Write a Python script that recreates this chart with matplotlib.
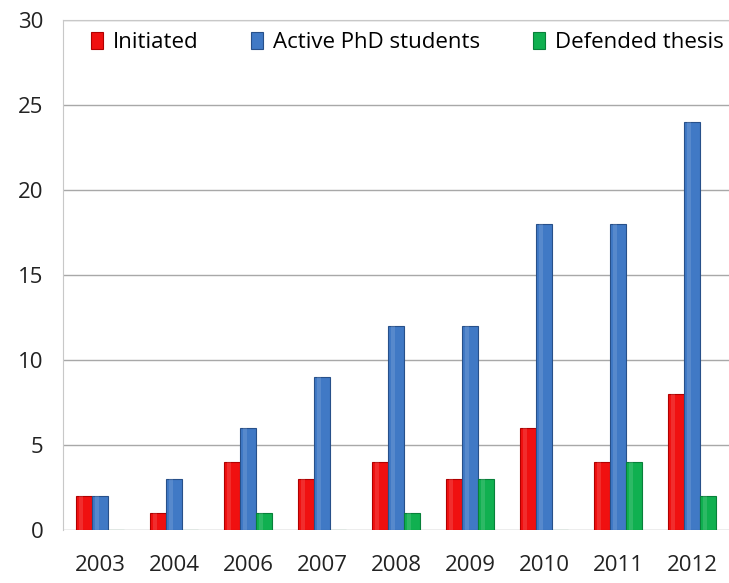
import numpy as np
import matplotlib.pyplot as plt
from matplotlib.patches import Rectangle

years = ['2003', '2004', '2006', '2007', '2008', '2009', '2010', '2011', '2012']
initiated = [2, 1, 4, 3, 4, 3, 6, 4, 8]
active = [2, 3, 6, 9, 12, 12, 18, 18, 24]
defended = [0, 0, 1, 0, 1, 3, 0, 4, 2]

plt.rcParams['font.family'] = ['Open Sans', 'DejaVu Sans']

fig = plt.figure(figsize=(7.29, 5.83), dpi=100)
ax = fig.add_axes([63 / 729, 53 / 583, 666 / 729, 510 / 583])

x = np.arange(len(years))
w = 0.215
series = [
    (initiated, -w, '#F01010', '#B00000', 'Initiated'),
    (active, 0, '#4079C5', '#27508A', 'Active PhD students'),
    (defended, w, '#10B050', '#08803A', 'Defended thesis'),
]
for vals, off, col, edge, lab in series:
    bars = ax.bar(x + off, vals, width=w, color=col, edgecolor=edge, linewidth=0.8,
                  label=lab, zorder=3)
    # light highlight strip for the bevelled look
    for b in bars:
        if b.get_height() > 0:
            ax.add_patch(Rectangle((b.get_x() + b.get_width() * 0.2, 0), b.get_width() * 0.25,
                                   b.get_height(), color='white', alpha=0.12, lw=0, zorder=4))

ax.set_xlim(-0.5, len(years) - 0.5)
ax.set_ylim(0, 30)
ax.set_yticks(range(0, 31, 5))
ax.set_xticks(x)
ax.set_xticklabels(years)
ax.tick_params(axis='both', length=0, labelsize=16, colors='#222222')
ax.tick_params(axis='x', pad=18)
ax.tick_params(axis='y', pad=14)
ax.yaxis.grid(True, color='#A8A8A8', linewidth=1, zorder=0)
ax.set_axisbelow(True)
for s in ['right', 'bottom']:
    ax.spines[s].set_visible(False)
ax.spines['left'].set_color('#C8C8C8')
ax.spines['top'].set_color('#C8C8C8')

ax.legend(loc='upper center', bbox_to_anchor=(0.517, 1.0), ncol=3, frameon=False,
          fontsize=16, handlelength=0.55, handleheight=0.75, handletextpad=0.45,
          columnspacing=2.35, borderaxespad=0.15)

fig.savefig('out.png', dpi=100)
